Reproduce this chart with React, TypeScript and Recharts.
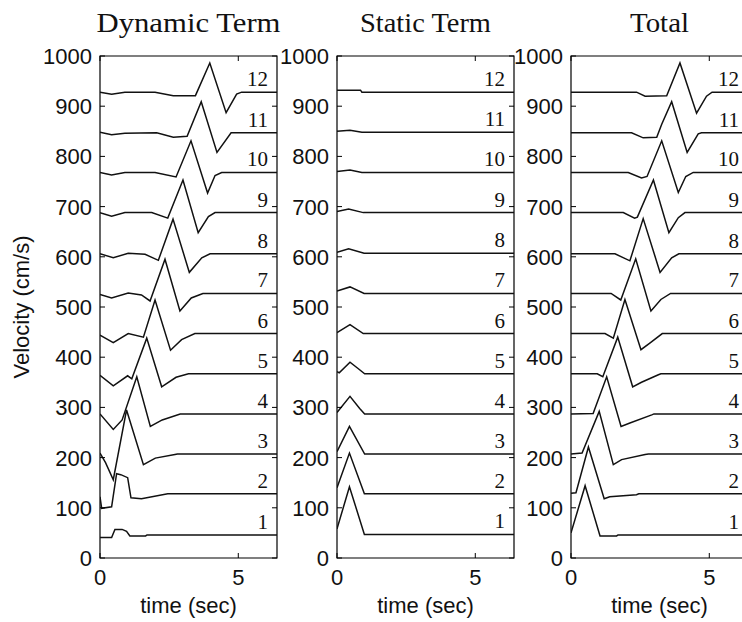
import React from "react"
import { LineChart, Line, XAxis, YAxis, ReferenceArea } from "recharts"

// time (sec), velocity (cm/s) incl. the vertical offset of each trace
const xTicks = [0, 5]
const yTicks = [0, 100, 200, 300, 400, 500, 600, 700, 800, 900, 1000]
const seriesLabels = ["1", "2", "3", "4", "5", "6", "7", "8", "9", "10", "11", "12"]

const dynamicTerm: number[][][] = [
  [[0, 41], [0.42, 41], [0.54, 57], [0.8, 57], [0.96, 53], [1.08, 44], [1.65, 44], [1.7, 46], [6.4, 46]],
  [[0, 122], [0.06, 99], [0.42, 102], [0.6, 168], [0.75, 166], [1.0, 160], [1.12, 120], [1.5, 118], [2.45, 128], [6.4, 128]],
  [[0, 209], [0.2, 190], [0.48, 156], [0.96, 295], [1.57, 186], [2.0, 199], [2.71, 206], [2.8, 207], [6.4, 207]],
  [[0, 287], [0.48, 256], [0.8, 275], [1.33, 361], [1.82, 262], [2.25, 275], [2.9, 287], [6.4, 287]],
  [[0, 364], [0.48, 343], [1.0, 363], [1.15, 357], [1.69, 438], [2.23, 341], [2.75, 360], [3.2, 367], [6.4, 367]],
  [[0, 444], [0.48, 429], [1.02, 447], [1.57, 440], [1.99, 514], [2.55, 414], [2.95, 435], [3.43, 447], [6.4, 447]],
  [[0, 525], [0.42, 518], [1.02, 528], [1.5, 524], [1.81, 512], [2.35, 595], [2.89, 492], [3.3, 518], [3.72, 527], [6.4, 527]],
  [[0, 606], [0.48, 598], [1.02, 607], [1.63, 605], [2.11, 593], [2.64, 675], [3.23, 569], [3.68, 598], [3.98, 606], [6.4, 606]],
  [[0, 688], [0.42, 681], [0.9, 688], [1.87, 688], [2.45, 677], [3.0, 753], [3.55, 648], [3.92, 680], [4.16, 688], [6.4, 688]],
  [[0, 768], [0.42, 763], [0.9, 768], [1.99, 768], [2.75, 759], [3.29, 831], [3.89, 727], [4.16, 762], [4.4, 768], [6.4, 768]],
  [[0, 848], [0.42, 843], [0.9, 846], [2.05, 847], [2.65, 838], [3.15, 840], [3.66, 909], [4.23, 808], [4.74, 847], [6.4, 847]],
  [[0, 928], [0.42, 924], [0.9, 928], [1.99, 928], [2.65, 921], [3.45, 921], [3.97, 986], [4.56, 887], [4.94, 924], [5.12, 928], [6.4, 928]],
]

const staticTerm: number[][][] = [
  [[0, 58], [0.45, 142], [0.99, 47], [6.4, 47]],
  [[0, 140], [0.45, 209], [0.99, 128], [6.4, 128]],
  [[0, 212], [0.45, 262], [1.0, 207], [6.4, 207]],
  [[0, 290], [0.47, 322], [0.82, 298], [1.0, 287], [6.4, 287]],
  [[0, 371], [0.08, 369], [0.47, 390], [0.75, 378], [1.0, 367], [6.4, 367]],
  [[0, 449], [0.47, 465], [0.95, 447], [6.4, 447]],
  [[0, 532], [0.47, 540], [0.98, 527], [6.4, 527]],
  [[0, 609], [0.42, 616], [0.98, 607], [6.4, 607]],
  [[0, 690], [0.42, 695], [0.95, 688], [6.4, 688]],
  [[0, 770], [0.47, 773], [0.9, 768], [6.4, 768]],
  [[0, 850], [0.47, 852], [0.9, 848], [6.4, 848]],
  [[0, 932], [0.85, 932], [0.9, 928], [6.4, 928]],
]

const totalTerm: number[][][] = [
  [[0, 50], [0.51, 144], [1.05, 44], [1.65, 44], [1.7, 46], [6.4, 46]],
  [[0, 129], [0.18, 130], [0.63, 221], [1.2, 118], [1.4, 122], [2.37, 126], [2.45, 128], [6.4, 128]],
  [[0, 207], [0.4, 209], [1.02, 292], [1.53, 186], [1.83, 196], [2.68, 206], [2.8, 207], [6.4, 207]],
  [[0, 287], [0.8, 288], [1.29, 361], [1.81, 262], [2.13, 269], [2.92, 285], [3.0, 287], [6.4, 287]],
  [[0, 367], [0.95, 367], [1.15, 361], [1.69, 440], [2.23, 341], [2.55, 350], [3.16, 365], [3.25, 367], [6.4, 367]],
  [[0, 447], [1.23, 447], [1.53, 438], [1.95, 515], [2.53, 415], [2.85, 428], [3.3, 447], [6.4, 447]],
  [[0, 527], [1.45, 527], [1.8, 514], [2.34, 596], [2.89, 492], [3.25, 515], [3.6, 527], [6.4, 527]],
  [[0, 606], [1.59, 606], [2.13, 592], [2.61, 676], [3.22, 569], [3.64, 598], [3.9, 606], [6.4, 606]],
  [[0, 688], [1.89, 688], [2.3, 677], [2.4, 679], [2.98, 753], [3.54, 648], [3.88, 678], [4.12, 688], [6.4, 688]],
  [[0, 768], [2.07, 768], [2.55, 757], [2.75, 760], [3.28, 831], [3.88, 728], [4.15, 760], [4.42, 768], [6.4, 768]],
  [[0, 847], [2.19, 847], [2.61, 837], [3.1, 838], [3.28, 864], [3.64, 909], [4.2, 808], [4.6, 845], [4.72, 847], [6.4, 847]],
  [[0, 928], [2.37, 928], [2.68, 920], [3.46, 921], [3.94, 986], [4.54, 886], [4.9, 920], [5.1, 928], [6.4, 928]],
]

const PLOT_W = 177
const TOP = 56
const AXIS_H = 64
const H = 622
const PLOT_H = H - TOP - AXIS_H
const TICK = 5
const GAP = 8
const X_MARGIN = 11

const SANS = '"Liberation Sans", Arial, Helvetica, sans-serif'
const SERIF = '"Liberation Serif", "Times New Roman", serif'

function YTick(props: any) {
  const { x, y, payload } = props
  const ax = x + GAP
  return (
    <g>
      <text x={x} y={y} dy="0.36em" textAnchor="end" fontFamily={SANS} fontSize={22} fill="#111">
        {payload.value}
      </text>
      <line x1={ax} x2={ax + TICK} y1={y} y2={y} stroke="#000" />
      <line x1={ax + PLOT_W - TICK} x2={ax + PLOT_W} y1={y} y2={y} stroke="#000" />
    </g>
  )
}

function XTick(props: any) {
  const { x, y, payload } = props
  const ay = y - X_MARGIN
  return (
    <g>
      <text x={x} y={y} dy="0.71em" textAnchor="middle" fontFamily={SANS} fontSize={22} fill="#111">
        {payload.value}
      </text>
      <line x1={x} x2={x} y1={ay} y2={ay - TICK} stroke="#000" />
      <line x1={x} x2={x} y1={ay - PLOT_H} y2={ay - PLOT_H + TICK} stroke="#000" />
    </g>
  )
}

function Panel({ series, left, axisW, yLabel }: { series: number[][][]; left: number; axisW: number; yLabel?: boolean }) {
  const rows = series.map((s) => s.map(([t, v]) => ({ t, v })))
  return (
    <div style={{ position: "absolute", left, top: 0 }}>
      <LineChart width={axisW + PLOT_W + 4} height={H} margin={{ top: TOP, right: 4, bottom: 0, left: 0 }}>
        <XAxis
          type="number"
          dataKey="t"
          domain={[0, 6.4]}
          ticks={xTicks}
          allowDataOverflow
          height={AXIS_H}
          axisLine={false}
          tickLine={false}
          tickSize={0}
          tickMargin={X_MARGIN}
          tick={<XTick />}
          label={{
            content: (p: any) => (
              <text
                x={p.viewBox.x + p.viewBox.width / 2}
                y={p.viewBox.y + 55}
                textAnchor="middle"
                fontFamily={SANS}
                fontSize={22}
                fill="#111"
              >
                time (sec)
              </text>
            ),
          }}
        />
        <YAxis
          type="number"
          domain={[0, 1000]}
          ticks={yTicks}
          interval={0}
          width={axisW}
          axisLine={false}
          tickLine={false}
          tickSize={0}
          tickMargin={GAP}
          tick={<YTick />}
          label={
            yLabel
              ? {
                  content: (p: any) => {
                    const cy = p.viewBox.y + p.viewBox.height / 2
                    return (
                      <text
                        x={21}
                        y={cy}
                        transform={`rotate(-90 21 ${cy})`}
                        textAnchor="middle"
                        dominantBaseline="central"
                        fontFamily={SANS}
                        fontSize={22}
                        fill="#111"
                      >
                        Velocity (cm/s)
                      </text>
                    )
                  },
                }
              : undefined
          }
        />
        <ReferenceArea x1={0} x2={6.4} y1={0} y2={1000} fill="none" stroke="#000" strokeWidth={1.2} ifOverflow="visible" />
        {rows.map((data, i) => (
          <Line
            key={i}
            data={data}
            dataKey="v"
            type="linear"
            stroke="#111"
            strokeWidth={1.5}
            dot={false}
            isAnimationActive={false}
            label={(p: any) =>
              p.index === data.length - 1 ? (
                <text
                  key={`l${i}`}
                  x={(p.x ?? p.viewBox?.x) - 9}
                  y={(p.y ?? p.viewBox?.y) - 6}
                  textAnchor="end"
                  fontFamily={SERIF}
                  fontSize={21}
                  fill="#111"
                >
                  {seriesLabels[i]}
                </text>
              ) : null
            }
          />
        ))}
      </LineChart>
    </div>
  )
}

const panels = [
  { title: "Dynamic Term", series: dynamicTerm, left: 0, axisW: 100, yLabel: true, titleW: 184 },
  { title: "Static Term", series: staticTerm, left: 277, axisW: 60, titleW: 131 },
  { title: "Total", series: totalTerm, left: 511, axisW: 60, titleW: 59 },
]

export default function App() {
  return (
    <div style={{ position: "fixed", left: 0, top: 0, width: 742, height: 622, overflow: "hidden", background: "#fff" }}>
      {panels.map((p) => (
        <Panel key={p.title} series={p.series} left={p.left} axisW={p.axisW} yLabel={p.yLabel} />
      ))}
      <svg width={742} height={622} style={{ position: "absolute", left: 0, top: 0, pointerEvents: "none" }}>
        {panels.map((p) => (
          <text
            key={p.title}
            x={p.left + p.axisW + PLOT_W / 2}
            y={32}
            textAnchor="middle"
            textLength={p.titleW}
            lengthAdjust="spacingAndGlyphs"
            fontFamily={SERIF}
            fontSize={28}
            fill="#111"
          >
            {p.title}
          </text>
        ))}
      </svg>
    </div>
  )
}
